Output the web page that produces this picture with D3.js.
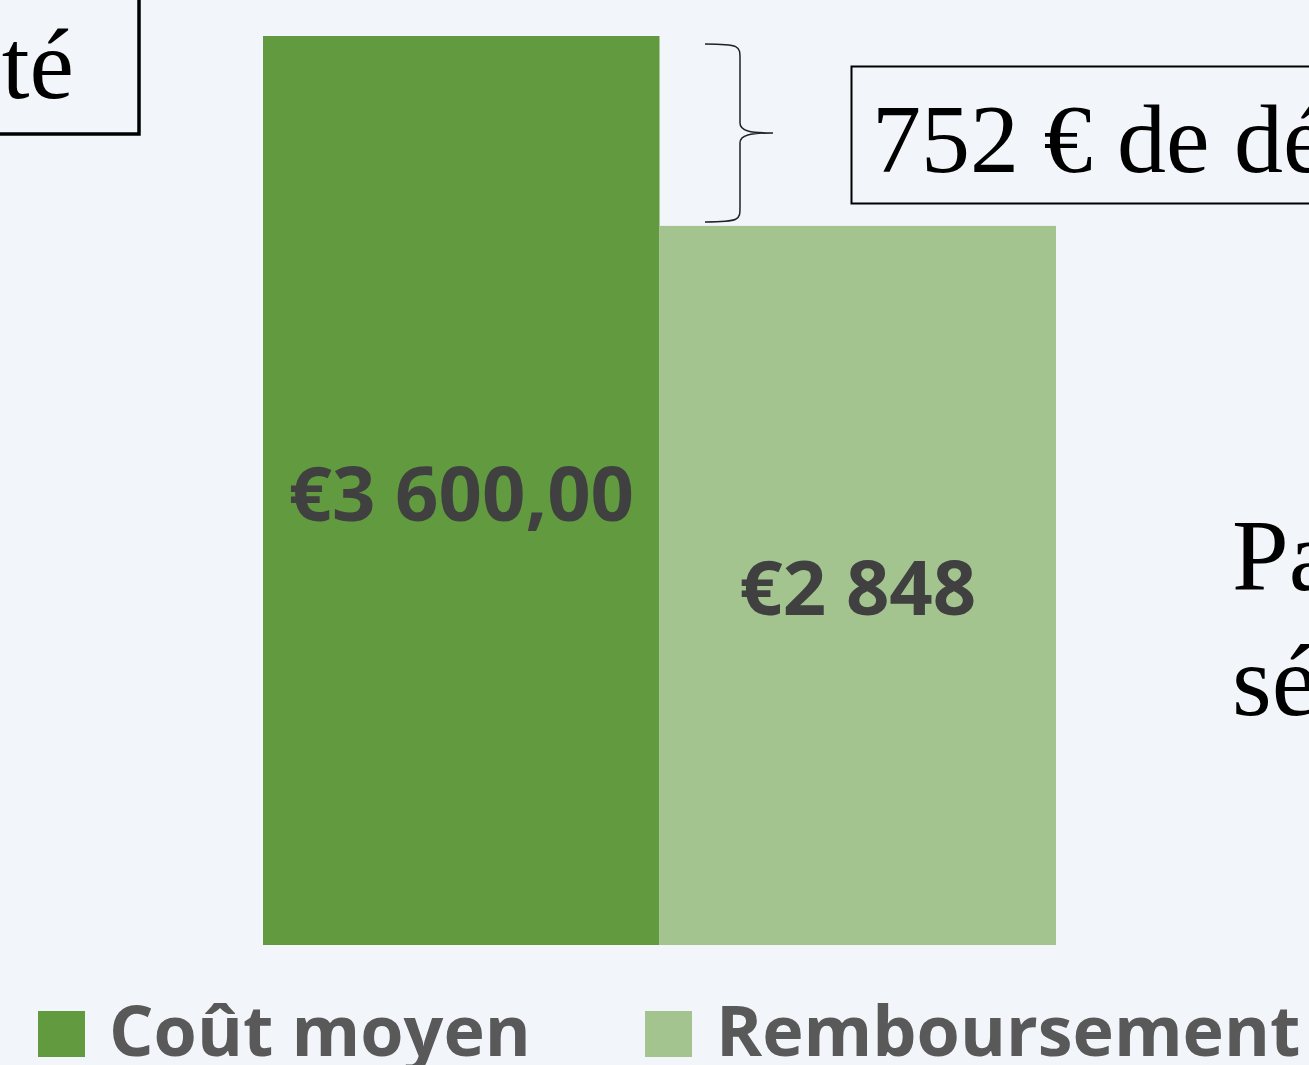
<!DOCTYPE html>
<html>
<head>
<meta charset="utf-8">
<script src="https://cdn.jsdelivr.net/npm/d3@7"></script>
<style>
  body { margin:0; background:#f2f5fa; overflow:hidden; }
</style>
</head>
<body>
<script>
// cost vs reimbursement bars

const categories = ["Coût moyen", "Remboursement"];
const values = [3600, 2848];
const valueLabels = ["€3 600,00", "€2 848"];
const colors = ["#629a3f", "#a3c48f"];

const width = 1309, height = 1065;

const svg = d3.select("body").append("svg")
    .attr("width", width)
    .attr("height", height)
    .style("background", "#f2f5fa");

const x = d3.scaleBand().domain(categories).range([263, 1056]).padding(0);
const y = d3.scaleLinear().domain([0, 3600]).range([945, 36]);

const data = categories.map((c, i) => ({cat: c, val: values[i], label: valueLabels[i], color: colors[i]}));

svg.append("g").selectAll("rect")
  .data(data)
  .join("rect")
    .attr("x", d => x(d.cat))
    .attr("y", d => y(d.val))
    .attr("width", x.bandwidth())
    .attr("height", d => y(0) - y(d.val))
    .attr("fill", d => d.color);

svg.append("g").selectAll("text")
  .data(data)
  .join("text")
    .attr("x", d => x(d.cat) + x.bandwidth() / 2)
    .attr("y", d => (y(d.val) + y(0)) / 2 + 30)
    .attr("text-anchor", "middle")
    .style("font-family", "'Open Sans', sans-serif")
    .style("font-weight", 700)
    .style("font-size", "76px")
    .style("fill", "#404040")
    .text(d => d.label);

// legend
const legend = svg.append("g");
const legendX = [38, 645];
data.forEach((d, i) => {
  legend.append("rect")
    .attr("x", legendX[i]).attr("y", 1011)
    .attr("width", 47).attr("height", 46)
    .attr("fill", d.color);
  legend.append("text")
    .attr("x", legendX[i] + 71).attr("y", 1056)
    .style("font-family", "'Open Sans', sans-serif")
    .style("font-weight", 700)
    .style("font-size", "70px")
    .style("fill", "#595959")
    .text(d.cat);
});

// left box (clipped)
svg.append("rect")
  .attr("x", -300).attr("y", -10)
  .attr("width", 439).attr("height", 144)
  .attr("fill", "none").attr("stroke", "#000").attr("stroke-width", 3.5);
svg.append("text")
  .attr("x", 74).attr("y", 98)
  .attr("text-anchor", "end")
  .style("font-family", "'Liberation Serif', 'Times New Roman', serif")
  .style("font-size", "100px")
  .style("fill", "#000")
  .text("Qualité");

// brace between bar tops
const top1 = y(values[0]) + 8, top2 = y(values[1]) - 4;
const mid = (top1 + top2) / 2;
const bx = 705, bm = 740, tip = 773;
svg.append("path")
  .attr("d", `M${bx},${top1} C${bm},${top1} ${bm},${top1+2} ${bm},${top1+15}
              L${bm},${mid-10} C${bm},${mid-2} ${bm+10},${mid} ${tip},${mid}
              C${bm+10},${mid} ${bm},${mid+2} ${bm},${mid+10}
              L${bm},${top2-15} C${bm},${top2-2} ${bm},${top2} ${bx},${top2}`)
  .attr("fill", "none").attr("stroke", "#222").attr("stroke-width", 1.5);

// right box (clipped)
svg.append("rect")
  .attr("x", 851.5).attr("y", 66.5)
  .attr("width", 600).attr("height", 137)
  .attr("fill", "none").attr("stroke", "#000").attr("stroke-width", 2);
svg.append("text")
  .attr("x", 872).attr("y", 172)
  .style("font-family", "'Liberation Serif', 'Times New Roman', serif")
  .style("font-size", "98px")
  .style("fill", "#000")
  .text("752 € de dépassement");

// right side text
const side = svg.append("text")
  .style("font-family", "'Liberation Serif', 'Times New Roman', serif")
  .style("font-size", "102px")
  .style("fill", "#000");
side.append("tspan").attr("x", 1232).attr("y", 590).text("Par");
side.append("tspan").attr("x", 1232).attr("y", 715).text("séance");
</script>
</body>
</html>
